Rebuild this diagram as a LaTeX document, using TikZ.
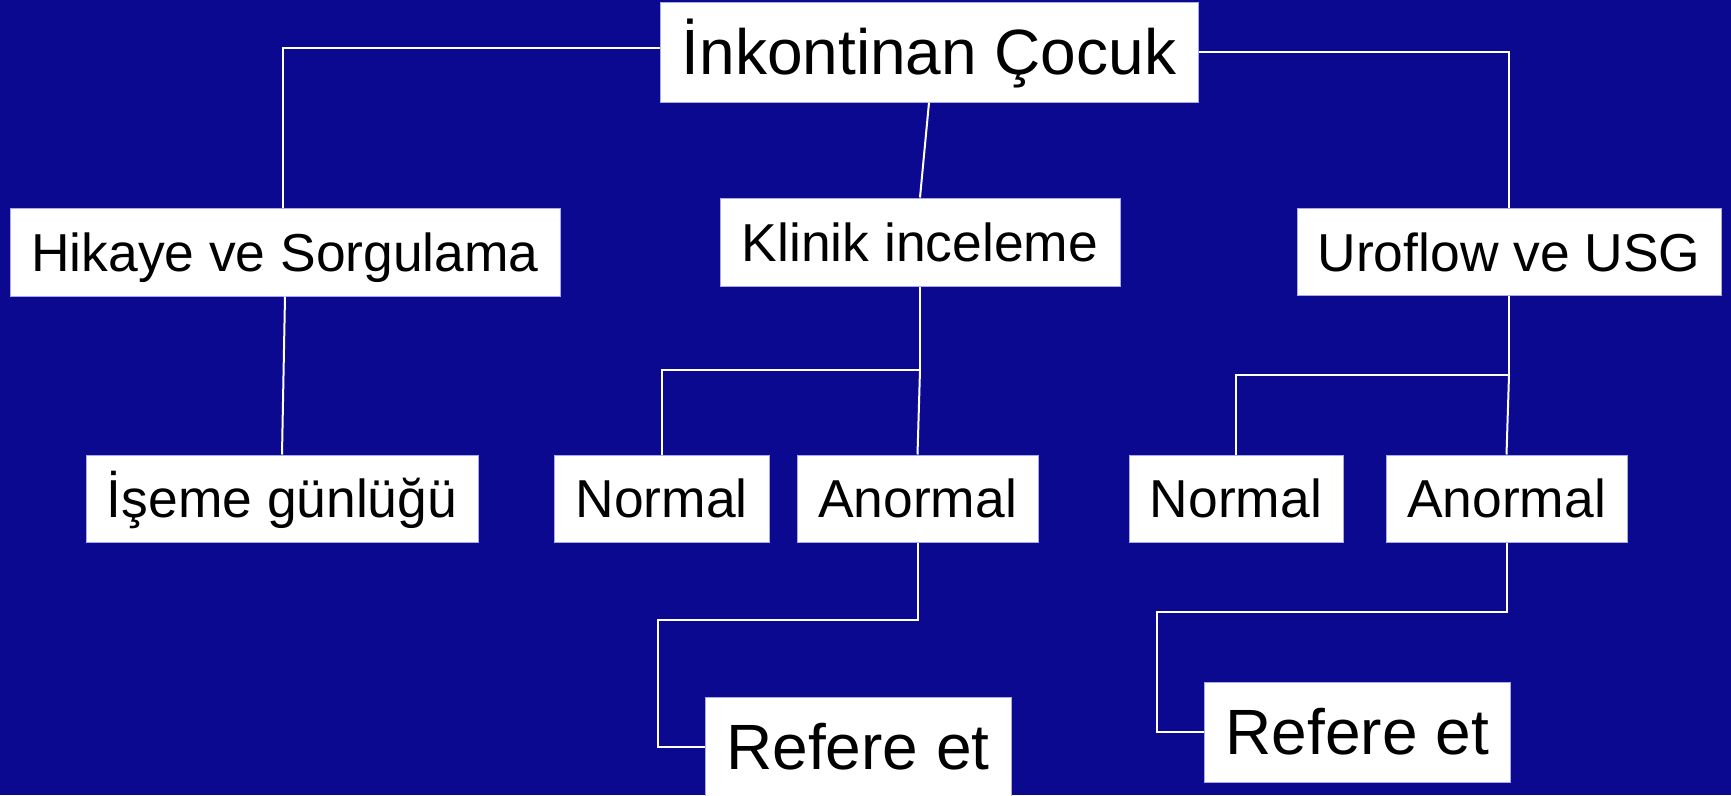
\documentclass[tikz,border=0pt]{standalone}
\usepackage{fontspec}
\setmainfont{Liberation Sans}
\definecolor{bgblue}{RGB}{12,9,145}
\definecolor{boxedge}{RGB}{170,170,230}
\tikzset{
  box/.style={draw=boxedge, line width=1pt, fill=white, inner sep=0pt, text=black, text depth=0pt},
  midtext/.style={box, font=\fontsize{53.4}{60}\selectfont, text height=38.2pt, minimum height=87pt},
  bigtext/.style={box, font=\fontsize{64}{72}\selectfont, text height=45.8pt, minimum height=100pt},
  conn/.style={draw=white, line width=2pt}
}
\begin{document}
\begin{tikzpicture}[x=1pt, y=-1pt]
\clip (0,0) rectangle (1731,795);
\fill[bgblue] (0,0) rectangle (1731,795);

\node[bigtext, minimum width=538pt] (top) at (929,52) {İnkontinan Çocuk};
\node[midtext, minimum width=550pt, minimum height=88pt] (hik) at (285,252) {Hikaye ve Sorgulama};
\node[midtext, minimum width=400pt, minimum height=88pt] (kli) at (920,242) {Klinik inceleme};
\node[midtext, minimum width=424pt] (uro) at (1509,252) {Uroflow ve USG};
\node[midtext, minimum width=392pt] (ise) at (282,498.5) {İşeme günlüğü};
\node[midtext, minimum width=214.5pt] (n1) at (661.75,498.5) {Normal};
\node[midtext, minimum width=241pt] (a1) at (917.5,498.5) {Anormal};
\node[midtext, minimum width=214pt] (n2) at (1236,498.5) {Normal};
\node[midtext, minimum width=241pt] (a2) at (1506.5,498.5) {Anormal};
\node[bigtext, minimum width=306pt] (r1) at (858,747) {Refere et};
\node[bigtext, minimum width=305.5pt] (r2) at (1357.25,732) {Refere et};

\coordinate (j1) at (920,370);
\coordinate (j2) at (1509,375);
\coordinate (k1) at (658,620);
\coordinate (k3) at (1157,612);

\draw[conn] ([yshift=4pt]top.west) -| ([xshift=-2pt]hik.north);
\draw[conn] (top.east) -| (uro.north);
\draw[conn] (top.south) -- (kli.north);
\draw[conn] (hik.south) -- (ise.north);
\draw[conn] (kli.south) -- (j1) -| (n1.north);
\draw[conn] (j1) -- (a1.north);
\draw[conn] (a1.south) |- (k1) |- (r1.west);
\draw[conn] (uro.south) -- (j2) -| (n2.north);
\draw[conn] (j2) -- (a2.north);
\draw[conn] (a2.south) |- (k3) |- (r2.west);
\end{tikzpicture}
\end{document}
